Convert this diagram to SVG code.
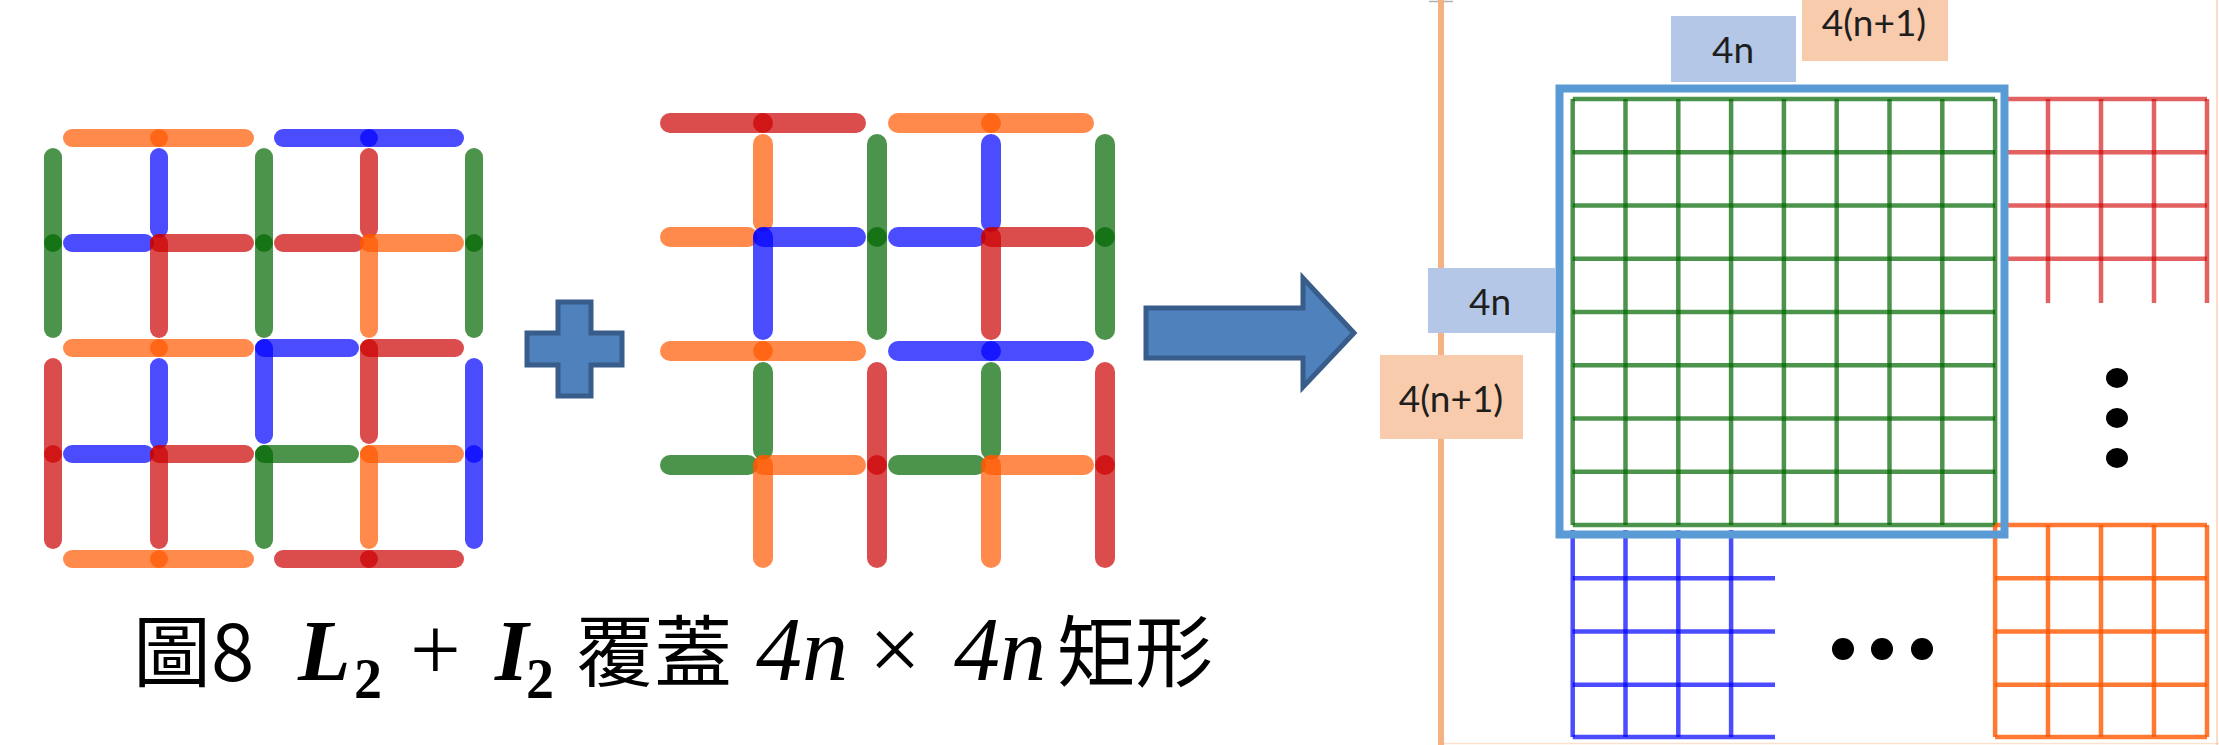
<svg xmlns="http://www.w3.org/2000/svg" width="2219" height="745" viewBox="0 0 2219 745">
<style>
.bars line{stroke-linecap:round;stroke-opacity:0.7;fill:none}
.sL line{stroke-width:18}
.sR line{stroke-width:20}
.o{stroke:#ff5800}
.b{stroke:#0000ff}
.r{stroke:#cc0000}
.g{stroke:#006600}
.grid line{stroke-width:4.5;stroke-linecap:butt}
.gg line{stroke:#006600;stroke-opacity:0.7}
.gr line{stroke:#d00000;stroke-opacity:0.62}
.gb line{stroke:#0000ff;stroke-opacity:0.7}
.go line{stroke:#ff5800;stroke-opacity:0.8}
.lbl{font-family:Lato,"Open Sans","Liberation Sans",sans-serif;font-size:37px;fill:#1e1e1e;text-anchor:middle}
.bluebox{fill:#b4c7e7}
.orbox{fill:#f8cbad}
.cjk{font-family:"Noto Sans CJK TC","Noto Sans CJK SC",sans-serif;font-size:78px}
.math{font-family:"Liberation Serif","DejaVu Serif",serif}
</style>
<rect width="2219" height="745" fill="#ffffff"/>

<g id="pattern-left" class="bars sL">
<line class="b" x1="159" y1="229" x2="159" y2="157"/><line class="b" x1="145" y1="243" x2="72" y2="243"/>
<line class="r" x1="369" y1="229" x2="369" y2="157"/><line class="r" x1="355" y1="243" x2="283" y2="243"/>
<line class="b" x1="159" y1="440" x2="159" y2="367"/><line class="b" x1="145" y1="454" x2="72" y2="454"/>
<line class="o" x1="159" y1="138" x2="72" y2="138"/><line class="o" x1="159" y1="138" x2="245" y2="138"/>
<line class="b" x1="369" y1="138" x2="283" y2="138"/><line class="b" x1="369" y1="138" x2="455" y2="138"/>
<line class="g" x1="53" y1="243" x2="53" y2="157"/><line class="g" x1="53" y1="243" x2="53" y2="329"/>
<line class="r" x1="159" y1="243" x2="245" y2="243"/><line class="r" x1="159" y1="243" x2="159" y2="329"/>
<line class="g" x1="264" y1="243" x2="264" y2="157"/><line class="g" x1="264" y1="243" x2="264" y2="329"/>
<line class="o" x1="369" y1="243" x2="455" y2="243"/><line class="o" x1="369" y1="243" x2="369" y2="329"/>
<line class="g" x1="474" y1="243" x2="474" y2="157"/><line class="g" x1="474" y1="243" x2="474" y2="329"/>
<line class="o" x1="159" y1="348" x2="72" y2="348"/><line class="o" x1="159" y1="348" x2="245" y2="348"/>
<line class="b" x1="264" y1="348" x2="350" y2="348"/><line class="b" x1="264" y1="348" x2="264" y2="435"/>
<line class="r" x1="369" y1="348" x2="455" y2="348"/><line class="r" x1="369" y1="348" x2="369" y2="435"/>
<line class="r" x1="53" y1="454" x2="53" y2="367"/><line class="r" x1="53" y1="454" x2="53" y2="540"/>
<line class="r" x1="159" y1="454" x2="245" y2="454"/><line class="r" x1="159" y1="454" x2="159" y2="540"/>
<line class="g" x1="264" y1="454" x2="350" y2="454"/><line class="g" x1="264" y1="454" x2="264" y2="540"/>
<line class="o" x1="369" y1="454" x2="455" y2="454"/><line class="o" x1="369" y1="454" x2="369" y2="540"/>
<line class="b" x1="474" y1="454" x2="474" y2="367"/><line class="b" x1="474" y1="454" x2="474" y2="540"/>
<line class="o" x1="159" y1="559" x2="72" y2="559"/><line class="o" x1="159" y1="559" x2="245" y2="559"/>
<line class="r" x1="369" y1="559" x2="283" y2="559"/><line class="r" x1="369" y1="559" x2="455" y2="559"/>
</g>

<g id="plus">
<path d="M558,302 H591 V333 H622 V365 H591 V396 H558 V365 H527 V333 H558 Z" fill="#4f81bd" stroke="#385d8a" stroke-width="5"/>
</g>

<g id="pattern-right" class="bars sR">
<line class="o" x1="763" y1="222" x2="763" y2="144"/><line class="o" x1="748" y1="237" x2="670" y2="237"/>
<line class="b" x1="991" y1="222" x2="991" y2="144"/><line class="b" x1="976" y1="237" x2="898" y2="237"/>
<line class="g" x1="763" y1="450" x2="763" y2="372"/><line class="g" x1="748" y1="465" x2="670" y2="465"/>
<line class="g" x1="991" y1="450" x2="991" y2="372"/><line class="g" x1="976" y1="465" x2="898" y2="465"/>
<line class="r" x1="763" y1="123" x2="670" y2="123"/><line class="r" x1="763" y1="123" x2="856" y2="123"/>
<line class="o" x1="991" y1="123" x2="898" y2="123"/><line class="o" x1="991" y1="123" x2="1084" y2="123"/>
<line class="b" x1="763" y1="237" x2="856" y2="237"/><line class="b" x1="763" y1="237" x2="763" y2="330"/>
<line class="g" x1="877" y1="237" x2="877" y2="144"/><line class="g" x1="877" y1="237" x2="877" y2="330"/>
<line class="r" x1="991" y1="237" x2="1084" y2="237"/><line class="r" x1="991" y1="237" x2="991" y2="330"/>
<line class="g" x1="1105" y1="237" x2="1105" y2="144"/><line class="g" x1="1105" y1="237" x2="1105" y2="330"/>
<line class="o" x1="763" y1="351" x2="670" y2="351"/><line class="o" x1="763" y1="351" x2="856" y2="351"/>
<line class="b" x1="991" y1="351" x2="898" y2="351"/><line class="b" x1="991" y1="351" x2="1084" y2="351"/>
<line class="o" x1="763" y1="465" x2="856" y2="465"/><line class="o" x1="763" y1="465" x2="763" y2="558"/>
<line class="r" x1="877" y1="465" x2="877" y2="372"/><line class="r" x1="877" y1="465" x2="877" y2="558"/>
<line class="o" x1="991" y1="465" x2="1084" y2="465"/><line class="o" x1="991" y1="465" x2="991" y2="558"/>
<line class="r" x1="1105" y1="465" x2="1105" y2="372"/><line class="r" x1="1105" y1="465" x2="1105" y2="558"/>
</g>

<g id="connectors">
<path d="M1146,308 H1303 V278 L1354,333 L1303,387 V358 H1146 Z" fill="#4f81bd" stroke="#385d8a" stroke-width="5" stroke-linejoin="miter"/>
</g>

<g id="result">
<g id="frame" fill="none">
<line x1="2217" y1="0" x2="2217" y2="745" stroke="#f4b183" stroke-width="1.5" stroke-opacity="0.6"/>
<line x1="1444" y1="743.5" x2="2219" y2="743.5" stroke="#f4b183" stroke-width="1.5" stroke-opacity="0.4"/>
<line x1="1429" y1="1.5" x2="1453" y2="1.5" stroke="#b0b0b0" stroke-width="1.5"/>
<line x1="1441" y1="0" x2="1441" y2="745" stroke="#f4b183" stroke-width="6"/>
</g>
<g id="grid-green" class="grid gg">
<line x1="1572.7" y1="99" x2="1572.7" y2="525"/><line x1="1625.5" y1="99" x2="1625.5" y2="525"/><line x1="1678.3" y1="99" x2="1678.3" y2="525"/>
<line x1="1731.1" y1="99" x2="1731.1" y2="525"/><line x1="1783.9" y1="99" x2="1783.9" y2="525"/><line x1="1836.7" y1="99" x2="1836.7" y2="525"/>
<line x1="1889.5" y1="99" x2="1889.5" y2="525"/><line x1="1942.3" y1="99" x2="1942.3" y2="525"/><line x1="1995.1" y1="99" x2="1995.1" y2="525"/>
<line x1="1572.7" y1="99" x2="1995.1" y2="99"/><line x1="1572.7" y1="152.25" x2="1995.1" y2="152.25"/><line x1="1572.7" y1="205.5" x2="1995.1" y2="205.5"/>
<line x1="1572.7" y1="258.75" x2="1995.1" y2="258.75"/><line x1="1572.7" y1="312" x2="1995.1" y2="312"/><line x1="1572.7" y1="365.25" x2="1995.1" y2="365.25"/>
<line x1="1572.7" y1="418.5" x2="1995.1" y2="418.5"/><line x1="1572.7" y1="471.75" x2="1995.1" y2="471.75"/><line x1="1572.7" y1="525" x2="1995.1" y2="525"/>
</g>
<g id="grid-red" class="grid gr">
<line x1="2001" y1="99" x2="2207" y2="99"/><line x1="2001" y1="152.25" x2="2207" y2="152.25"/><line x1="2001" y1="205.5" x2="2207" y2="205.5"/><line x1="2001" y1="258.75" x2="2207" y2="258.75"/>
<line x1="2048" y1="99" x2="2048" y2="303"/><line x1="2101" y1="99" x2="2101" y2="303"/><line x1="2154" y1="99" x2="2154" y2="303"/><line x1="2207" y1="99" x2="2207" y2="303"/>
</g>
<g id="grid-blue" class="grid gb">
<line x1="1572.7" y1="530" x2="1572.7" y2="737"/><line x1="1625.5" y1="530" x2="1625.5" y2="737"/><line x1="1678.3" y1="530" x2="1678.3" y2="737"/><line x1="1731.1" y1="530" x2="1731.1" y2="737"/>
<line x1="1572.7" y1="578.3" x2="1775" y2="578.3"/><line x1="1572.7" y1="631.5" x2="1775" y2="631.5"/><line x1="1572.7" y1="684.8" x2="1775" y2="684.8"/><line x1="1572.7" y1="737" x2="1775" y2="737"/>
</g>
<g id="grid-orange" class="grid go">
<line x1="1995.1" y1="525" x2="1995.1" y2="737"/><line x1="2048" y1="525" x2="2048" y2="737"/><line x1="2101" y1="525" x2="2101" y2="737"/><line x1="2154" y1="525" x2="2154" y2="737"/><line x1="2207" y1="525" x2="2207" y2="737"/>
<line x1="1995.1" y1="525" x2="2207" y2="525"/><line x1="1995.1" y1="578.3" x2="2207" y2="578.3"/><line x1="1995.1" y1="631.5" x2="2207" y2="631.5"/><line x1="1995.1" y1="684.8" x2="2207" y2="684.8"/><line x1="1995.1" y1="737" x2="2207" y2="737"/>
</g>
<g id="square-outline">
<rect x="1559.5" y="88.5" width="445" height="446" fill="none" stroke="#5b9bd5" stroke-width="8"/>
</g>
<g id="ellipsis-v" fill="#000000">
<ellipse cx="2117" cy="378" rx="11" ry="10"/><ellipse cx="2117" cy="418" rx="11" ry="10"/><ellipse cx="2117" cy="458" rx="11" ry="10"/>
</g>
<g id="ellipsis-h" fill="#000000">
<ellipse cx="1843" cy="649" rx="11" ry="11"/><ellipse cx="1882" cy="649" rx="11" ry="11"/><ellipse cx="1922" cy="649" rx="11" ry="11"/>
</g>
<g id="label-top-4n"><rect class="bluebox" x="1671" y="16" width="125" height="66"/><text class="lbl" x="1733" y="63">4n</text></g>
<g id="label-top-4n1"><rect class="orbox" x="1802" y="0" width="146" height="61"/><text class="lbl" x="1874" y="36" font-size="34">4(n+1)</text></g>
<g id="label-left-4n"><rect class="bluebox" x="1428" y="268" width="127" height="65"/><text class="lbl" x="1490" y="315">4n</text></g>
<g id="label-left-4n1"><rect class="orbox" x="1380" y="355" width="143" height="84"/><text class="lbl" x="1451" y="412">4(n+1)</text></g>
</g>

<g id="caption" fill="#000000">
<text class="cjk" x="133" y="681">圖8</text>
<text class="math" font-weight="bold" font-style="italic" font-size="86" x="298" y="680">L</text>
<text class="math" font-weight="bold" font-size="56" x="354" y="698">2</text>
<text class="math" font-size="90" x="410" y="680">+</text>
<text class="math" font-weight="bold" font-style="italic" font-size="86" x="495" y="680">I</text>
<text class="math" font-weight="bold" font-size="56" x="526" y="698">2</text>
<text class="cjk" x="576" y="681">覆蓋</text>
<text class="math" font-style="italic" font-size="92" x="756" y="680">4n</text>
<text class="math" font-size="92" x="869" y="680">×</text>
<text class="math" font-style="italic" font-size="92" x="954" y="680">4n</text>
<text class="cjk" x="1057" y="681">矩形</text>
</g>
</svg>
